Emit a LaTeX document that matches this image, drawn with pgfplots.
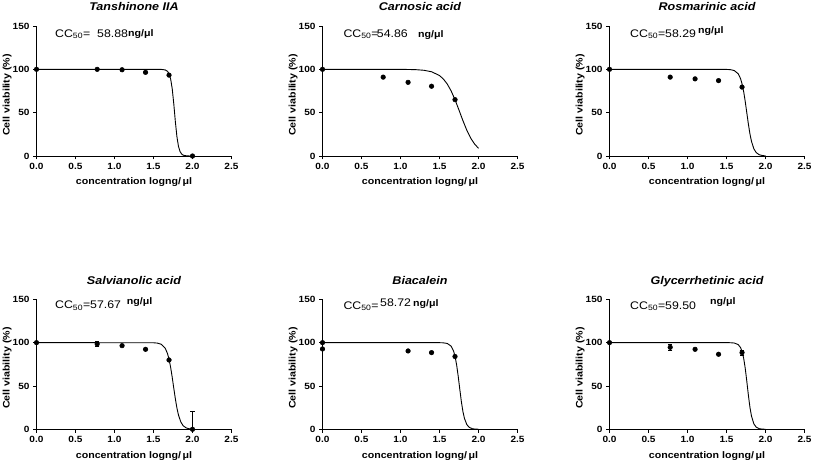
\documentclass[border=0pt]{standalone}
\usepackage{fontspec}
\setmainfont{Liberation Sans}[FakeStretch=1.12]
\usepackage{pgfplots}
\pgfplotsset{compat=1.18}
\pgfplotsset{panel/.style={
  scale only axis, width=195pt, height=130pt,
  xmin=0, xmax=2.5, ymin=0, ymax=150,
  axis x line*=bottom, axis y line*=left,
  axis line style={black, line width=0.9pt, -},
  xtick={0,0.5,1,1.5,2,2.5}, xticklabels={0.0,0.5,1.0,1.5,2.0,2.5},
  ytick={0,50,100,150}, yticklabels={0,50,100,150},
  tick align=outside, major tick length=3.5pt, minor tick num=0,
  tick style={black, line width=0.9pt},
  ticklabel style={font=\bfseries\fontsize{9}{10}\selectfont},
  xlabel={concentration logng/\,μl}, ylabel={Cell viability (\%)},
  label style={font=\bfseries\fontsize{9.5}{11}\selectfont},
  xlabel style={at={(axis description cs:0.5,0)}, anchor=base, yshift=-29pt},
  ylabel style={at={(axis description cs:-0.15,0.47)}, anchor=center},
  title style={font=\bfseries\itshape\fontsize{11.2}{13}\selectfont, at={(axis description cs:0.5,1)}, anchor=base, yshift=9pt},
  clip=false,
  every axis plot/.append style={black, line width=0.9pt},
}}
\pgfplotsset{pts/.style={only marks, mark=*, mark size=2.3pt, mark options={fill=black, draw=black, line width=0.5pt},
  error bars/.cd, y dir=both, y explicit,
  error bar style={line width=0.9pt},
  error mark options={rotate=90, mark size=2.3pt, line width=0.9pt}}}
\pgfplotsset{crv/.style={no marks, line width=0.9pt}}
\newcommand{\cc}[1]{\fontsize{11}{13}\selectfont #1}
\newcommand{\ul}{\bfseries\fontsize{9.5}{11}\selectfont ng/μl}
\begin{document}
\begin{tikzpicture}
\useasboundingbox (0,0) rectangle (813pt,463pt);
% ---------- Panel 1 ----------
\begin{axis}[panel, at={(36.5pt,307pt)}, anchor=south west, title={Tanshinone IIA}]
\addplot[crv] coordinates {(0,100) (1.5,100) (1.6,99.91) (1.65,99.31) (1.68,97.66) (1.70,94.79) (1.72,88.82) (1.74,77.61) (1.76,60.21) (1.77,50) (1.78,39.78) (1.80,22.39) (1.82,11.18) (1.84,5.21) (1.86,2.34) (1.88,1.04) (1.90,0.46) (1.95,0.06) (2.0,0)};
\addplot[pts] coordinates {(0,100) +- (0,0) (0.778,100) +- (0,0) (1.097,99.5) +- (0,0) (1.398,96.5) +- (0,0) (1.699,93.3) +- (0,0) (2.0,0) +- (0,0)};
\end{axis}
% ---------- Panel 2 ----------
\begin{axis}[panel, at={(322.5pt,307pt)}, anchor=south west, title={Carnosic acid}]
\addplot[crv] coordinates {(0,100) (0.5,100) (0.8,99.99) (1.0,99.94) (1.1,99.84) (1.2,99.59) (1.3,98.91) (1.4,97.17) (1.5,92.81) (1.55,88.79) (1.6,82.95) (1.65,74.91) (1.7,64.69) (1.75,52.93) (1.8,40.83) (1.85,29.75) (1.9,20.63) (1.95,13.76) (2.0,8.92)};
\addplot[pts] coordinates {(0,100) +- (0,0) (0.778,91) +- (0,0) (1.097,85) +- (0,0) (1.398,80.5) +- (0,0) (1.699,65) +- (0,0)};
\end{axis}
% ---------- Panel 3 ----------
\begin{axis}[panel, at={(609.5pt,307pt)}, anchor=south west, title={Rosmarinic acid}]
\addplot[crv] coordinates {(0,100) (1.5,99.90) (1.55,99.62) (1.6,98.58) (1.65,94.85) (1.68,89.27) (1.70,83.04) (1.72,74.26) (1.74,62.94) (1.76,50) (1.78,37.06) (1.80,25.74) (1.82,16.96) (1.85,8.45) (1.88,4.0) (1.92,1.42) (1.96,0.5) (2.0,0.17)};
\addplot[pts] coordinates {(0,100) +- (0,0) (0.778,91) +- (0,0) (1.097,89) +- (0,0) (1.398,87) +- (0,0) (1.699,79.5) +- (0,0)};
\end{axis}
% ---------- Panel 4 ----------
\begin{axis}[panel, at={(36.5pt,33.7pt)}, anchor=south west, title={Salvianolic acid}]
\addplot[crv] coordinates {(0,100) (1.5,99.85) (1.55,99.46) (1.6,98.11) (1.65,93.61) (1.68,87.27) (1.70,80.51) (1.72,71.34) (1.74,60.0) (1.76,47.46) (1.78,35.25) (1.80,24.70) (1.82,16.51) (1.85,8.47) (1.88,4.15) (1.92,1.55) (1.96,0.57) (2.0,0.21)};
\addplot[pts] coordinates {(0,100) +- (0,0) (0.778,98.5) +- (0,3) (1.097,96.5) +- (0,0) (1.398,92.3) +- (0,0) (1.699,80) +- (0,0) (2.0,0) += (0,21) -= (0,0)};
\end{axis}
% ---------- Panel 5 ----------
\begin{axis}[panel, at={(322.5pt,33.7pt)}, anchor=south west, title={Biacalein}]
\addplot[crv] coordinates {(0,100) (1.5,99.95) (1.55,99.78) (1.6,99.04) (1.65,95.86) (1.68,90.42) (1.70,83.84) (1.72,74.03) (1.74,61.04) (1.76,46.27) (1.78,32.12) (1.80,20.63) (1.82,12.50) (1.85,5.50) (1.88,2.32) (1.92,0.71) (1.96,0.22) (2.0,0.07)};
\addplot[pts] coordinates {(0,100) +- (0,0) (0,92.7) +- (0,0) (1.097,90.4) +- (0,0) (1.398,88.5) +- (0,0) (1.699,84) +- (0,0)};
\end{axis}
% ---------- Panel 6 ----------
\begin{axis}[panel, at={(609.5pt,33.7pt)}, anchor=south west, title={Glycerrhetinic acid}]
\addplot[crv] coordinates {(0,100) (1.5,99.98) (1.55,99.91) (1.6,99.54) (1.65,97.75) (1.68,94.29) (1.70,89.66) (1.72,81.98) (1.74,70.48) (1.76,55.62) (1.78,39.67) (1.80,25.66) (1.82,15.34) (1.85,6.44) (1.88,2.55) (1.92,0.72) (1.96,0.20) (2.0,0.05)};
\addplot[pts] coordinates {(0,100) +- (0,0) (0.778,94.6) +- (0,3.5) (1.097,92.3) +- (0,0) (1.398,86.6) +- (0,0) (1.699,88.5) +- (0,3)};
\end{axis}
% ---------- CC50 annotations ----------
\begin{scope}[every node/.style={inner sep=0pt, anchor=base west}]
\node at (55pt,425.7pt) {\cc{CC\textsubscript{50}=}};
\node at (97pt,425.7pt) {\cc{58.88}};
\node at (128pt,426pt) {\ul};
\node at (343.3pt,425.7pt) {\cc{CC\textsubscript{50}=}};
\node at (376.7pt,425.7pt) {\cc{54.86}};
\node at (418pt,425.7pt) {\ul};
\node at (630pt,425.7pt) {\cc{CC\textsubscript{50}=}};
\node at (665pt,425.7pt) {\cc{58.29}};
\node at (698pt,429.5pt) {\ul};
\node at (55pt,154pt) {\cc{CC\textsubscript{50}=}};
\node at (90pt,154pt) {\cc{57.67}};
\node at (126.7pt,158pt) {\ul};
\node at (343.3pt,153.7pt) {\cc{CC\textsubscript{50}=}};
\node at (380pt,156.3pt) {\cc{58.72}};
\node at (413pt,156.3pt) {\ul};
\node at (630pt,153.7pt) {\cc{CC\textsubscript{50}=}};
\node at (665pt,153.7pt) {\cc{59.50}};
\node at (710pt,158pt) {\ul};
\end{scope}
\end{tikzpicture}
\end{document}
